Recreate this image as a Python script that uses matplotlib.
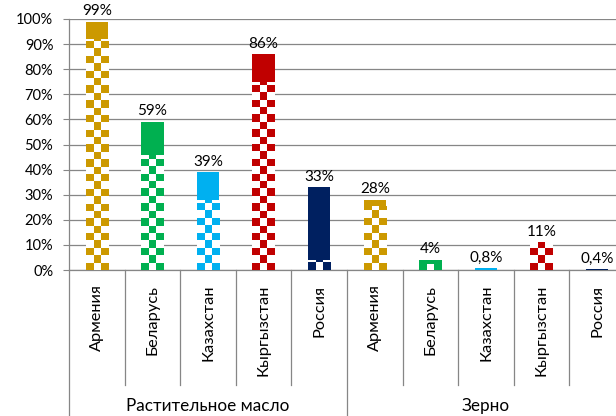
import numpy as np
import matplotlib
matplotlib.use('Agg')
import matplotlib.pyplot as plt
from matplotlib.colors import ListedColormap
import matplotlib.transforms as mtransforms

plt.rcParams['font.family'] = ['Lato', 'DejaVu Sans']

# data
countries = ['Армения', 'Беларусь', 'Казахстан', 'Кыргызстан', 'Россия']
groups = ['Растительное масло', 'Зерно']
# checkered (lower) part and solid (upper) part, in %
checkered = [92, 46, 28, 75, 4, 25.5, 2.3, 0, 11, 0]
solid = [7, 13, 11, 11, 29, 2.5, 1.7, 0.8, 0, 0.4]
totals = [99, 59, 39, 86, 33, 28, 4, 0.8, 11, 0.4]
colors = ['#CC9900', '#00B050', '#00B0F0', '#C00000', '#002060']

fig = plt.figure(figsize=(6.16, 4.16), dpi=100)
ax = fig.add_axes([69 / 616, 146 / 416, 556 / 616, 251 / 416])

n = len(countries) * len(groups)
x = np.arange(n)
bar_colors = colors * len(groups)
width = 0.4

# checkerboard: 3 squares across a bar, ~34 rows over 0..100
rows = 34
board = np.indices((rows, 3)).sum(axis=0) % 2 == 0

for i in range(n):
    c = bar_colors[i]
    if checkered[i] > 0:
        b = ax.bar(x[i], checkered[i], width, color='white', edgecolor='none', zorder=2)[0]
        im = ax.imshow(board.astype(float), cmap=ListedColormap(['white', c]),
                       extent=(x[i] - width / 2, x[i] + width / 2, 0, 100),
                       origin='lower', aspect='auto', interpolation='nearest', zorder=3)
        im.set_clip_path(b)
    if solid[i] > 0:
        ax.bar(x[i], solid[i], width, bottom=checkered[i], color=c, edgecolor='none', zorder=3)

# data labels
for i in range(n):
    t = totals[i]
    lab = ('%.1f%%' % t).replace('.', ',') if t < 1 else '%d%%' % t
    ax.annotate(lab, (x[i], t), xytext=(0, 2.5), textcoords='offset points',
                ha='center', va='bottom', fontsize=11, color='black', zorder=5)

ax.set_xlim(-0.5, n - 0.5)
ax.set_ylim(0, 100)
ax.set_yticks(np.arange(0, 101, 10))
ax.set_yticklabels(['%d%%' % v for v in range(0, 101, 10)], fontsize=10.5)
ax.tick_params(axis='y', length=4.3, color='#868686', pad=7)
ax.set_xticks([])
ax.grid(axis='y', color='#868686', linewidth=0.9, zorder=0)
ax.set_axisbelow(True)
for s in ['top', 'right']:
    ax.spines[s].set_visible(False)
for s in ['left', 'bottom']:
    ax.spines[s].set_color('#868686')
    ax.spines[s].set_linewidth(0.9)

# multi-level category axis
trans = mtransforms.blended_transform_factory(ax.transData, ax.transAxes)
for k in range(n + 1):
    xs = k - 0.5
    low = -0.6 if k % len(countries) == 0 else -0.46
    ax.plot([xs, xs], [0, low], transform=trans, color='#868686', lw=0.9, clip_on=False)
for i in range(n):
    ax.text(x[i], -0.058, countries[i % len(countries)], transform=trans, rotation=90,
            ha='center', va='top', fontsize=11.8)
for g, name in enumerate(groups):
    cx = g * len(countries) + (len(countries) - 1) / 2
    ax.text(cx, -0.542, name, transform=trans, ha='center', va='center', fontsize=12.3)

fig.savefig('out.png', dpi=100)
